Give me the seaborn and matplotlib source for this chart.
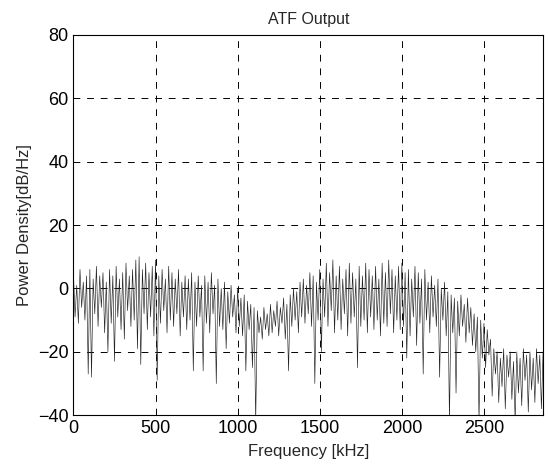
import matplotlib
matplotlib.use("Agg")
import matplotlib.pyplot as plt
import numpy as np
import seaborn as sns

# frequency grid of the spectrum estimate, kHz (10 kHz bins)
freq_khz = np.arange(0, 2870, 10)

# power density, dB/Hz, one row per 100 kHz
power_db = [
    5, -9, 1, -11, 6, -6, 2, -10, 4, -27,
    6, -28, 3, -8, 7, -12, 4, -6, 5, -14,
    2, -20, 6, -11, 4, -23, 7, -9, 3, -13,
    5, -16, 8, -7, 4, -12, 6, -10, 9, -19,
    10, -24, 6, -8, 8, -13, 5, -9, 7, -15,
    9, -29, 4, -11, 6, -7, 3, -14, 7, -10,
    5, -12, 3, -8, 6, -15, 2, -9, 4, -13,
    3, -10, 5, -26, 2, -12, 4, -9, 1, -26,
    4, -11, 2, -14, 5, -8, 1, -30, 3, -12,
    0, -13, 2, -19, -1, -11, 1, -9, -2, -14,
    0, -12, -3, -15, -2, -26, -4, -13, -5, -25,
    -6, -42, -7, -14, -9, -16, -6, -13, -8, -15,
    -5, -14, -7, -12, -4, -15, -6, -11, -3, -16,
    -5, -26, -2, -12, 0, -10, -1, -14, 2, -9,
    3, -11, 1, -8, 5, -12, 4, -30, 2, -10,
    6, -20, 3, -9, 8, -12, 5, -7, 9, -14,
    4, -10, 7, -13, 3, -8, 6, -15, 8, -11,
    5, -9, 3, -25, 7, -12, 4, -10, 8, -14,
    6, -9, 4, -13, 7, -10, 3, -15, 8, -11,
    5, -12, 9, -8, 6, -14, 4, -10, 7, -13,
    8, -12, 5, -22, 6, -15, 3, -9, 7, -18,
    5, -11, 3, -27, 6, -10, 2, -14, 4, -9,
    1, -12, 3, -28, 0, -10, 2, -15, -1, -42,
    -2, -14, -3, -33, -4, -15, -2, -12, -5, -17,
    -3, -14, -6, -18, -8, -20, -9, -42, -10, -22,
    -11, -25, -13, -21, -16, -34, -19, -27, -20, -36,
    -22, -31, -19, -38, -21, -28, -20, -35, -23, -42,
    -20, -33, -22, -37, -19, -29, -21, -39, -20, -32,
    -22, -36, -19, -30, -21, -38, -20,
]

x_ticks = [0, 500, 1000, 1500, 2000, 2500]
y_ticks = [-40, -20, 0, 20, 40, 60, 80]

sns.set_style("white")
plt.rcParams["font.family"] = ["Liberation Sans", "DejaVu Sans"]

fig = plt.figure(figsize=(5.48, 4.66), dpi=100)
ax = fig.add_axes([0.134, 0.109, 0.857, 0.816])

sns.lineplot(x=freq_khz, y=power_db, ax=ax, color="#222222", linewidth=0.45,
             estimator=None, sort=False)

ax.set_xlim(0, 2860)
ax.set_ylim(-40, 80)
ax.set_xticks(x_ticks)
ax.set_yticks(y_ticks)
ax.grid(True, color="black", linestyle=(0, (7, 7)), linewidth=0.7)
ax.tick_params(direction="in", length=4, labelsize=13, colors="black")
for s in ax.spines.values():
    s.set_color("black")
    s.set_linewidth(0.8)

ax.set_title("ATF Output", fontsize=11.5, pad=8)
ax.set_xlabel("Frequency [kHz]", fontsize=12, labelpad=5)
ax.set_ylabel("Power Density[dB/Hz]", fontsize=12)

fig.savefig("out.png", dpi=100)
